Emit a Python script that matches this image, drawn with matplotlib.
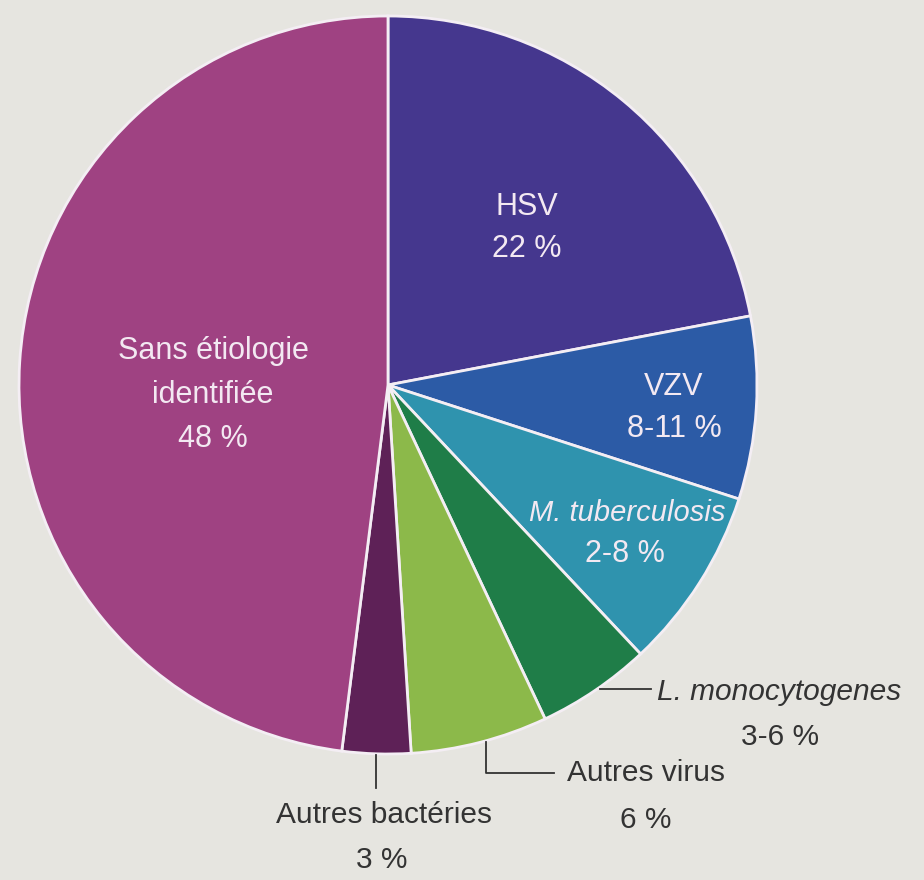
import matplotlib
matplotlib.use("Agg")
import matplotlib.pyplot as plt

# parts de chaque étiologie (sens horaire depuis le haut)
categories = ["HSV", "VZV", "M. tuberculosis", "L. monocytogenes",
              "Autres virus", "Autres bactéries", "Sans étiologie identifiée"]
values = [22, 8, 8, 5, 6, 3, 48]
value_labels = ["22 %", "8-11 %", "2-8 %", "3-6 %", "6 %", "3 %", "48 %"]
colors = ["#45378e", "#2c5ba6", "#2f93ae", "#1f7d48",
          "#8cb94a", "#5e2157", "#9f4282"]

W, H = 924, 880
plt.rcParams['font.family'] = ['Liberation Sans', 'DejaVu Sans']

fig = plt.figure(figsize=(W / 100, H / 100), dpi=100)
fig.patch.set_facecolor("#e6e5e0")
ax = fig.add_axes([0, 0, 1, 1])


def Y(y):
    # coordonnées image (y vers le bas) -> axes
    return H - y


cx, cy, r = 388, 385, 369
ax.pie(values, colors=colors, startangle=90, counterclock=False,
       center=(cx, Y(cy)), radius=r, frame=True,
       wedgeprops=dict(edgecolor="#f4eef4", linewidth=2))
ax.set_xlim(0, W)
ax.set_ylim(0, H)
ax.set_aspect("equal")
ax.axis("off")

white = "#f3e9f2"
dark = "#333333"
fs_in = 22
fs_out = 21.5
ls = 1.55

# étiquettes internes
ax.text(527, Y(228), categories[0] + "\n" + value_labels[0], color=white,
        fontsize=fs_in, ha="center", va="center", linespacing=ls)
ax.text(674, Y(408), categories[1] + "\n" + value_labels[1], color=white,
        fontsize=fs_in, ha="center", va="center", linespacing=ls)
ax.text(627, Y(513), categories[2], color=white, fontsize=fs_in - 1,
        ha="center", va="center", style="italic")
ax.text(625, Y(554), value_labels[2], color=white, fontsize=fs_in,
        ha="center", va="center")
ax.text(213, Y(395), "Sans étiologie\nidentifiée\n" + value_labels[6], color=white,
        fontsize=fs_in, ha="center", va="center", linespacing=1.6)

# étiquettes externes avec traits de rappel
ax.plot([600, 651], [Y(689), Y(689)], color=dark, lw=1.3)
ax.text(657, Y(692), categories[3], color=dark, fontsize=fs_out,
        ha="left", va="center", style="italic")
ax.text(780, Y(737), value_labels[3], color=dark, fontsize=fs_out,
        ha="center", va="center")

ax.plot([486, 486, 554], [Y(742), Y(773), Y(773)], color=dark, lw=1.3)
ax.text(567, Y(773), categories[4], color=dark, fontsize=fs_out,
        ha="left", va="center")
ax.text(646, Y(820), value_labels[4], color=dark, fontsize=fs_out,
        ha="center", va="center")

ax.plot([376, 376], [Y(755), Y(788)], color=dark, lw=1.3)
ax.text(384, Y(815), categories[5], color=dark, fontsize=fs_out,
        ha="center", va="center")
ax.text(382, Y(860), value_labels[5], color=dark, fontsize=fs_out,
        ha="center", va="center")

fig.savefig("out.png", dpi=100, facecolor=fig.get_facecolor())
